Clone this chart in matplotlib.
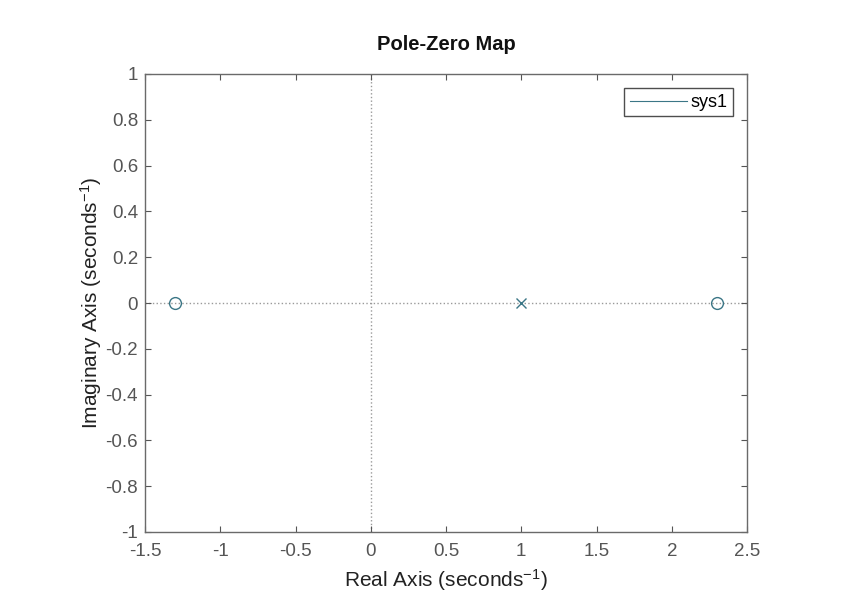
import matplotlib
matplotlib.use("Agg")
import matplotlib.pyplot as plt
from matplotlib.lines import Line2D

plt.rcParams['font.family'] = ['Liberation Sans', 'DejaVu Sans']
plt.rcParams['mathtext.fontset'] = 'custom'
plt.rcParams['mathtext.rm'] = 'Liberation Sans'
plt.rcParams['mathtext.it'] = 'Liberation Sans'

zeros_re = [-1.3, 2.3]
zeros_im = [0.0, 0.0]
poles_re = [1.0]
poles_im = [0.0]
xticks = [-1.5, -1, -0.5, 0, 0.5, 1, 1.5, 2, 2.5]
yticks = [-1, -0.8, -0.6, -0.4, -0.2, 0, 0.2, 0.4, 0.6, 0.8, 1]
series_name = "sys1"

col = '#3b7686'
gray = '#555555'

fig = plt.figure(figsize=(8.48, 5.99), dpi=100)
ax = fig.add_axes([145/848, 1 - 532/599, (747-145)/848, (532-74)/599])

ax.axhline(0, color='#9a9a9a', ls=':', lw=1, zorder=1)
ax.axvline(0, color='#9a9a9a', ls=':', lw=1, zorder=1)
ax.plot(zeros_re, zeros_im, 'o', mfc='none', mec=col, ms=8.5, mew=1, zorder=3)
ax.plot(poles_re, poles_im, 'x', color=col, ms=7.5, mew=1, zorder=3)

ax.set_xlim(-1.5, 2.5)
ax.set_ylim(-1, 1)
ax.set_xticks(xticks)
ax.set_xticklabels([f"{t:g}" for t in xticks])
ax.set_yticks(yticks)
ax.set_yticklabels([f"{t:g}" for t in yticks])
ax.tick_params(direction='in', length=4, width=0.8, colors='#555555',
               labelcolor=gray, labelsize=13.5, top=True, right=True)
ax.tick_params(axis='x', pad=8)
ax.tick_params(axis='y', pad=5)
for s in ax.spines.values():
    s.set_color('#6a6a6a')
    s.set_linewidth(1.0)

ax.set_title('Pole-Zero Map', fontsize=14.5, fontweight='bold', color='#111111', pad=17)
ax.set_xlabel('Real Axis (seconds$^{-1}$)', fontsize=15, color='#222222', labelpad=5)
ax.set_ylabel('Imaginary Axis (seconds$^{-1}$)', fontsize=15, color='#222222', labelpad=1)

h = Line2D([], [], color=col, lw=0.8)
leg = ax.legend([h], [series_name], loc='upper right', fontsize=13,
                frameon=True, fancybox=False, edgecolor='#222222',
                handlelength=3.2, borderaxespad=0.8, borderpad=0.3,
                handletextpad=0.15)
leg.get_frame().set_linewidth(1.0)

fig.savefig('out.png', dpi=100, facecolor='white')
